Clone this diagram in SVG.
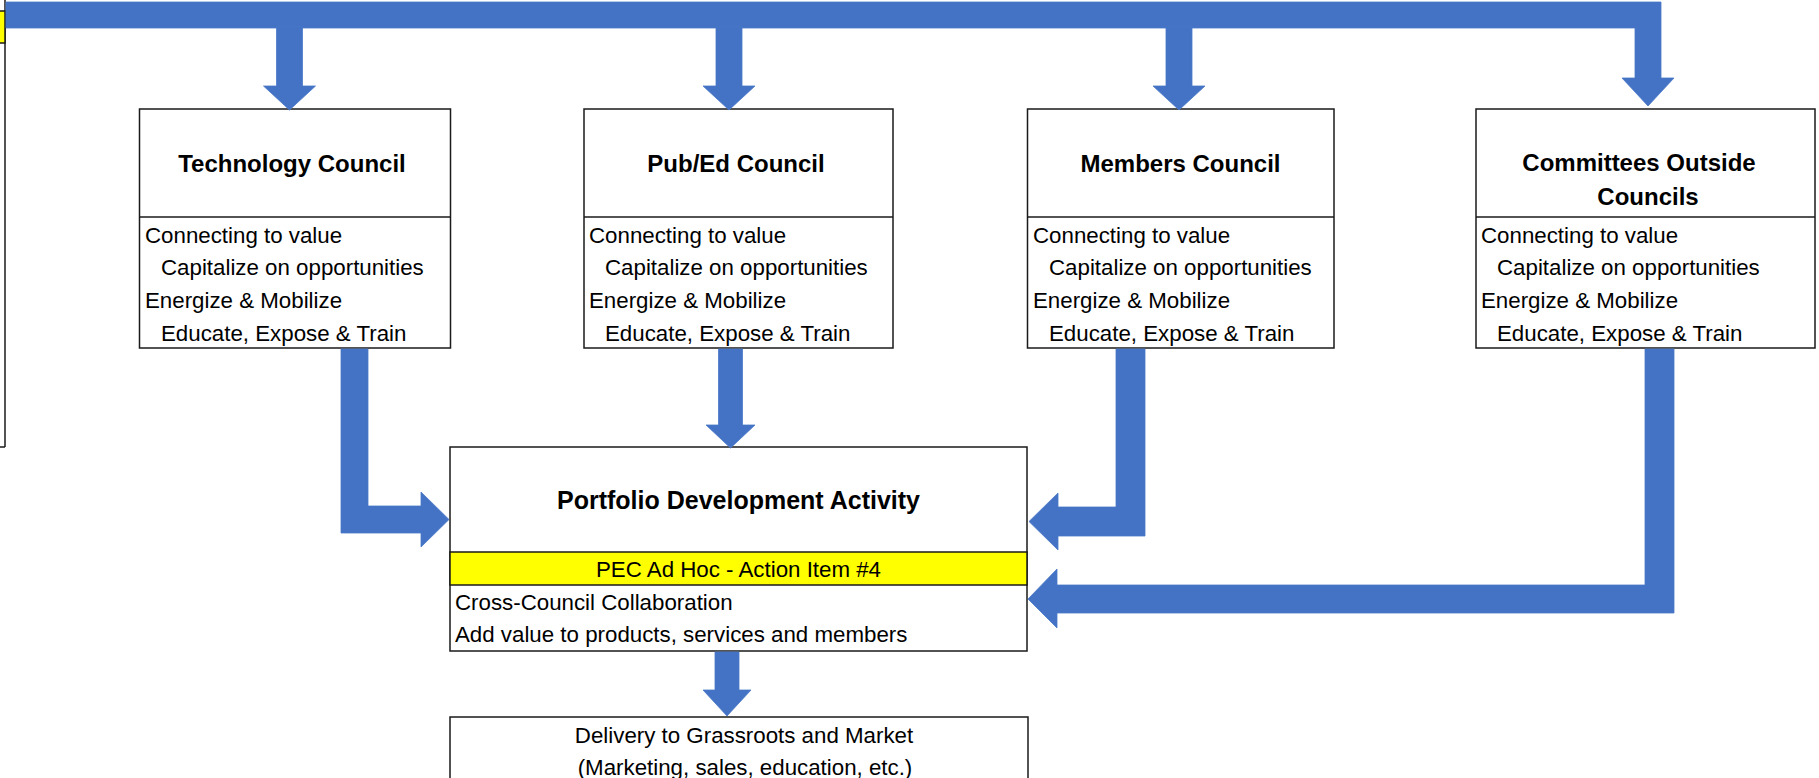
<svg xmlns="http://www.w3.org/2000/svg" width="1819" height="778" viewBox="0 0 1819 778">
  <style>
    .box { fill: #ffffff; stroke: #1a1a1a; stroke-width: 1.5; }
    .hl { fill: #ffff00; stroke: #1a1a1a; stroke-width: 1.5; }
    .rule { stroke: #1a1a1a; stroke-width: 1.5; fill: none; }
    .arrow { fill: #4472c4; stroke: #4a78c8; stroke-width: 0.8; stroke-linejoin: miter; }
    text { font-family: "Liberation Sans", Arial, sans-serif; fill: #000000; }
    .title { font-size: 24px; font-weight: bold; text-anchor: middle; }
    .body { font-size: 22.3px; }
    .mid { text-anchor: middle; }
  </style>

  <!-- partial panel cut off at the left edge -->
  <g id="side-panel">
    <line class="rule" x1="5" y1="0" x2="5" y2="447"/>
    <line class="rule" x1="-2" y1="447" x2="5" y2="447"/>
    <rect class="hl" x="-2" y="11" width="7" height="32"/>
  </g>

  <!-- council boxes -->
  <g id="technology-council">
    <rect class="box" x="139.5" y="109" width="311" height="239"/>
    <line class="rule" x1="139.5" y1="217" x2="450.5" y2="217"/>
    <text class="title" x="292" y="172">Technology Council</text>
    <text class="body" x="145" y="242.5">Connecting to value</text>
    <text class="body" x="161" y="275">Capitalize on opportunities</text>
    <text class="body" x="145" y="308">Energize &amp; Mobilize</text>
    <text class="body" x="161" y="340.5">Educate, Expose &amp; Train</text>
  </g>

  <g id="pubed-council">
    <rect class="box" x="584" y="109" width="309" height="239"/>
    <line class="rule" x1="584" y1="217" x2="893" y2="217"/>
    <text class="title" x="736" y="172">Pub/Ed Council</text>
    <text class="body" x="589" y="242.5">Connecting to value</text>
    <text class="body" x="605" y="275">Capitalize on opportunities</text>
    <text class="body" x="589" y="308">Energize &amp; Mobilize</text>
    <text class="body" x="605" y="340.5">Educate, Expose &amp; Train</text>
  </g>

  <g id="members-council">
    <rect class="box" x="1027.5" y="109" width="306.5" height="239"/>
    <line class="rule" x1="1027.5" y1="217" x2="1334" y2="217"/>
    <text class="title" x="1180.5" y="172">Members Council</text>
    <text class="body" x="1033" y="242.5">Connecting to value</text>
    <text class="body" x="1049" y="275">Capitalize on opportunities</text>
    <text class="body" x="1033" y="308">Energize &amp; Mobilize</text>
    <text class="body" x="1049" y="340.5">Educate, Expose &amp; Train</text>
  </g>

  <g id="committees-outside-councils">
    <rect class="box" x="1476" y="109" width="339" height="239"/>
    <line class="rule" x1="1476" y1="217" x2="1815" y2="217"/>
    <text class="title" x="1639" y="171">Committees Outside</text>
    <text class="title" x="1648" y="205">Councils</text>
    <text class="body" x="1481" y="242.5">Connecting to value</text>
    <text class="body" x="1497" y="275">Capitalize on opportunities</text>
    <text class="body" x="1481" y="308">Energize &amp; Mobilize</text>
    <text class="body" x="1497" y="340.5">Educate, Expose &amp; Train</text>
  </g>

  <!-- central portfolio box -->
  <g id="portfolio-development">
    <rect class="box" x="450" y="447" width="577" height="204"/>
    <rect class="hl" x="450" y="552" width="577" height="33"/>
    <text class="title" x="738.5" y="509" style="font-size:25px">Portfolio Development Activity</text>
    <text class="body mid" x="738.5" y="577">PEC Ad Hoc - Action Item #4</text>
    <text class="body" x="455" y="609.5">Cross-Council Collaboration</text>
    <text class="body" x="455" y="642">Add value to products, services and members</text>
  </g>

  <g id="delivery">
    <rect class="box" x="450" y="717" width="578" height="80"/>
    <text class="body mid" x="744" y="743">Delivery to Grassroots and Market</text>
    <text class="body mid" x="745" y="775">(Marketing, sales, education, etc.)</text>
  </g>

  <!-- block arrows -->
  <g id="connectors">
    <polygon class="arrow" points="6,2 1661,2 1661,78 1674,78 1648,106 1622,78 1635,78 1635,28 6,28"/>
    <polygon class="arrow" points="276.5,27 302.5,27 302.5,86 315.5,86 289.5,110 263.5,86 276.5,86"/>
    <polygon class="arrow" points="716,27 742,27 742,86 755,86 729,110 703,86 716,86"/>
    <polygon class="arrow" points="1166,27 1192,27 1192,86 1205,86 1179,110 1153,86 1166,86"/>

    <polygon class="arrow" points="341,349 368,349 368,506 421,506 421,492 449,519.5 421,547 421,533 341,533"/>
    <polygon class="arrow" points="718.5,349 742.5,349 742.5,425 755,425 730.5,448 706,425 718.5,425"/>
    <polygon class="arrow" points="1116,349 1145,349 1145,536 1058,536 1058,550 1029,521.5 1058,493 1058,507 1116,507"/>
    <polygon class="arrow" points="1645,349 1674,349 1674,613 1057,613 1057,628 1028,599 1057,569 1057,585 1645,585"/>

    <polygon class="arrow" points="715,652 739,652 739,690 751,690 727,716 703,690 715,690"/>
  </g>
</svg>
